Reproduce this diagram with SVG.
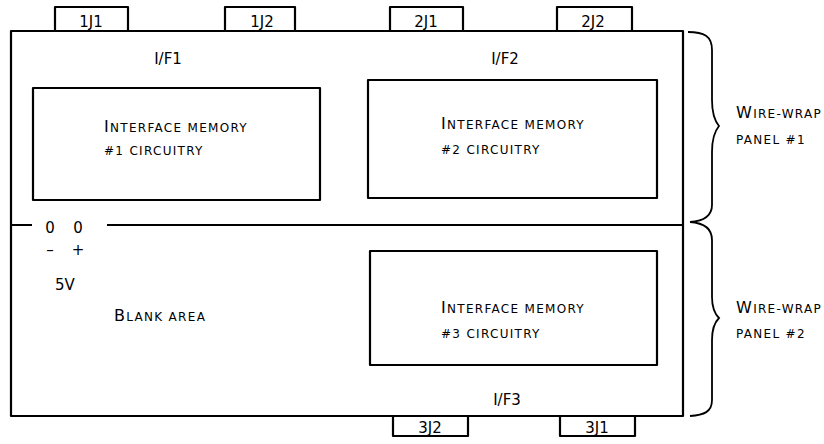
<svg xmlns="http://www.w3.org/2000/svg" width="824" height="444" viewBox="0 0 824 444">
<style>
.ln{fill:none;stroke:#000;stroke-width:2.2;stroke-linejoin:round}
.br{fill:none;stroke:#000;stroke-width:1.8}
text{font-family:"DejaVu Sans","Liberation Sans",sans-serif;fill:#000}
.lb{font-size:15px}
.sc{font-size:12px;letter-spacing:1.3px}
.cap{font-size:16px}
</style>
<rect width="824" height="444" fill="#fff"/>
<g id="board">
<rect class="ln" x="11" y="31" width="672" height="385"/>
</g>
<g id="conn-1J1"><path class="ln" d="M55,31V7H128V31"/><text class="lb" x="91" y="27" text-anchor="middle">1J1</text></g>
<g id="conn-1J2"><path class="ln" d="M225,31V7H295V31"/><text class="lb" x="262" y="27" text-anchor="middle">1J2</text></g>
<g id="conn-2J1"><path class="ln" d="M390,31V7H463V31"/><text class="lb" x="426" y="27" text-anchor="middle">2J1</text></g>
<g id="conn-2J2"><path class="ln" d="M557,31V7H632V31"/><text class="lb" x="593" y="27" text-anchor="middle">2J2</text></g>
<g id="conn-3J2"><path class="ln" d="M393,416V436H468V416"/><text class="lb" x="430" y="433" text-anchor="middle">3J2</text></g>
<g id="conn-3J1"><path class="ln" d="M560,416V436H635V416"/><text class="lb" x="597" y="433" text-anchor="middle">3J1</text></g>
<g id="label-if1"><text class="lb" x="168" y="64" text-anchor="middle">I/F1</text></g>
<g id="label-if2"><text class="lb" x="505" y="64" text-anchor="middle">I/F2</text></g>
<g id="label-if3"><text class="lb" x="507" y="405" text-anchor="middle">I/F3</text></g>
<g id="mem1">
<rect class="ln" x="33" y="88" width="287" height="112"/>
<text class="sc" x="104" y="132"><tspan class="cap">I</tspan>NTERFACE MEMORY</text>
<text class="sc" x="104" y="155">#1 CIRCUITRY</text>
</g>
<g id="mem2">
<rect class="ln" x="368" y="80" width="289" height="118"/>
<text class="sc" x="441" y="129"><tspan class="cap">I</tspan>NTERFACE MEMORY</text>
<text class="sc" x="441" y="154">#2 CIRCUITRY</text>
</g>
<g id="mem3">
<rect class="ln" x="370" y="251" width="287" height="114"/>
<text class="sc" x="441" y="313"><tspan class="cap">I</tspan>NTERFACE MEMORY</text>
<text class="sc" x="441" y="338">#3 CIRCUITRY</text>
</g>
<g id="divider">
<path class="ln" d="M11,225H32M107,225H683"/>
</g>
<g id="power">
<text class="lb" x="50" y="233" text-anchor="middle">0</text>
<text class="lb" x="78" y="233" text-anchor="middle">0</text>
<text class="lb" x="50" y="255" text-anchor="middle">–</text>
<text class="lb" x="78" y="255" text-anchor="middle">+</text>
<text class="lb" x="55" y="290">5V</text>
</g>
<g id="blank-area"><text class="sc" x="114" y="321"><tspan class="cap">B</tspan>LANK AREA</text></g>
<g id="brace-1">
<path class="br" d="M688,32C704,32 712,36 712,50V100C712,112 714,120 719,126C714,132 712,140 712,152V205C712,216 704,221 690,222"/>
<text class="sc" x="736" y="118"><tspan class="cap">W</tspan>IRE-WRAP</text>
<text class="sc" x="736" y="144">PANEL #1</text>
</g>
<g id="brace-2">
<path class="br" d="M690,222C704,223 712,228 712,240V297C712,307 714,313 719,318C714,323 712,330 712,340V400C712,412 704,415 690,416"/>
<text class="sc" x="736" y="313"><tspan class="cap">W</tspan>IRE-WRAP</text>
<text class="sc" x="736" y="338">PANEL #2</text>
</g>
</svg>
